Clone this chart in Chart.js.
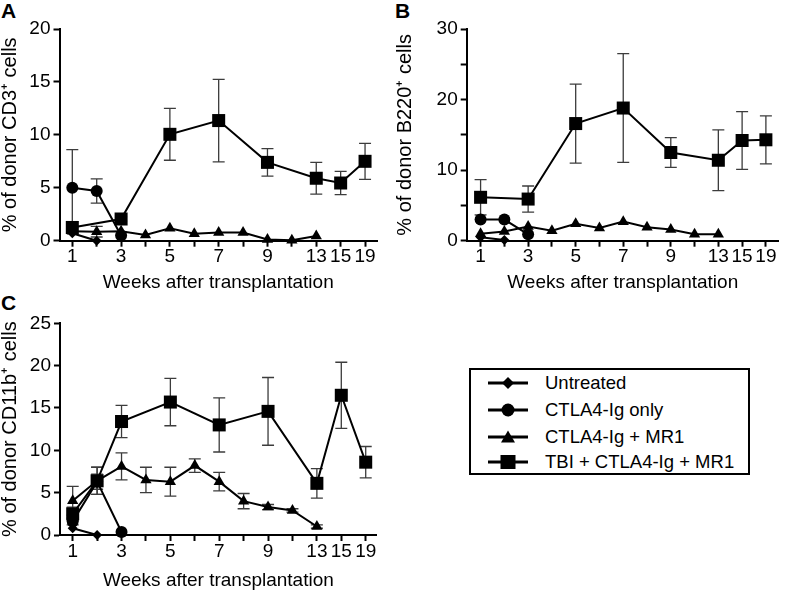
<!DOCTYPE html>
<html>
<head>
<meta charset="utf-8">
<script src="https://cdn.jsdelivr.net/npm/chart.js@4.4.1/dist/chart.umd.min.js"></script>
<style>
  html, body { margin: 0; padding: 0; background: #fff; }
  #wrap { position: relative; width: 788px; height: 592px; overflow: hidden; font-family: 'Liberation Sans', Arial, sans-serif; color: #000; }
  .panel { position: absolute; }
  .tag { position: absolute; font-weight: bold; font-size: 21px; line-height: 21px; }
  #legend { position: absolute; left: 469px; top: 368px; width: 281px; height: 107px; border: 2px solid #000; box-sizing: border-box; }
  .row { position: absolute; left: 17px; height: 26px; display: flex; align-items: center; font-size: 18.5px; white-space: nowrap; }
  .row svg { margin-right: 17px; }
</style>
</head>
<body>
<div id="wrap">
  <div class="tag" style="left:1px;top:0px">A</div>
  <div class="tag" style="left:395px;top:0px">B</div>
  <div class="tag" style="left:1px;top:292px">C</div>
  <div class="panel" style="left:0;top:0;width:392px;height:296px"><canvas id="chartA"></canvas></div>
  <div class="panel" style="left:395px;top:0;width:393px;height:296px"><canvas id="chartB"></canvas></div>
  <div class="panel" style="left:0;top:292px;width:392px;height:300px"><canvas id="chartC"></canvas></div>
  <div id="legend"></div>
</div>
<script>
// sumbu x: minggu (jarak antar kategori sama)
const weekLabels = ['1', '2', '3', '4', '5', '6', '7', '8', '9', '10', '13', '15', '19'];
const shownWeeks = ['1', '3', '5', '7', '9', '13', '15', '19'];
const seriesNames = ['Untreated', 'CTLA4-Ig only', 'CTLA4-Ig + MR1', 'TBI + CTLA4-Ig + MR1'];

// minggu pengambilan sampel tiap kelompok
const untreatedWeeks = ['1', '2'];
const ctlaWeeks = ['1', '2', '3'];
const mr1Weeks = ['1', '2', '3', '4', '5', '6', '7', '8', '9', '10', '13'];
const tbiWeeks = ['1', '3', '5', '7', '9', '13', '15', '19'];
const tbiWeeksC = ['1', '2', '3', '5', '7', '9', '13', '15', '19'];

// A: % donor CD3+
const cd3Untreated = [0.7, 0.0];
const cd3Ctla = [5.0, 4.7, 0.5];
const cd3CtlaErr = [3.6, 1.15, 0];
const cd3Mr1 = [0.9, 0.85, 0.9, 0.55, 1.17, 0.65, 0.78, 0.78, 0.12, 0.05, 0.45];
const cd3Mr1Err = [0, 0.5, 0, 0, 0, 0, 0, 0, 0, 0, 0];
const cd3Tbi = [1.25, 2.05, 10.05, 11.35, 7.4, 5.9, 5.45, 7.5];
const cd3TbiErr = [0.55, 0.2, 2.45, 3.9, 1.3, 1.5, 1.1, 1.7];

// B: % donor B220+
const b220Untreated = [0.5, 0.1];
const b220Ctla = [3.0, 3.0, 0.9];
const b220CtlaErr = [0, 0, 0];
const b220Mr1 = [1.0, 1.3, 2.0, 1.4, 2.4, 1.8, 2.7, 1.9, 1.6, 0.9, 0.9];
const b220Mr1Err = [0, 0, 0, 0, 0, 0, 0, 0, 0, 0, 0];
const b220Tbi = [6.15, 5.9, 16.6, 18.8, 12.5, 11.4, 14.2, 14.3];
const b220TbiErr = [2.5, 1.85, 5.6, 7.7, 2.1, 4.3, 4.1, 3.4];

// C: % donor CD11b+
const cd11bUntreated = [0.8, 0.0];
const cd11bCtla = [1.6, 6.3, 0.35];
const cd11bCtlaErr = [0.4, 0.9, 0];
const cd11bMr1 = [4.05, 6.4, 8.1, 6.5, 6.3, 8.2, 6.3, 4.0, 3.3, 2.9, 1.0];
const cd11bMr1Err = [1.7, 1.6, 1.6, 1.5, 1.7, 0.8, 1.1, 0.9, 0.3, 0.2, 0.2];
const cd11bTbi = [2.5, 6.4, 13.4, 15.7, 13.0, 14.6, 6.1, 16.5, 8.6];
const cd11bTbiErr = [0.8, 1.6, 1.9, 2.8, 3.2, 4.0, 1.75, 3.9, 1.85];

Chart.defaults.font.family = "'Liberation Sans', Arial, sans-serif";
Chart.defaults.color = '#000';

// plugin kecil untuk error bar (SEM)
const errorBars = {
  id: 'errorBars',
  beforeDatasetsDraw(chart) {
    const { ctx, scales: { x, y } } = chart;
    ctx.save();
    ctx.strokeStyle = '#3c3c3c';
    ctx.lineWidth = 1.3;
    chart.data.datasets.forEach(d => {
      if (!d.err) return;
      d.data.forEach((p, i) => {
        const e = d.err[i];
        if (!e) return;
        const px = x.getPixelForValue(p.x);
        const top = y.getPixelForValue(p.y + e);
        const bot = y.getPixelForValue(Math.max(0, p.y - e));
        ctx.beginPath();
        ctx.moveTo(px, top); ctx.lineTo(px, bot);
        ctx.moveTo(px - 6, top); ctx.lineTo(px + 6, top);
        ctx.moveTo(px - 6, bot); ctx.lineTo(px + 6, bot);
        ctx.stroke();
      });
    });
    ctx.restore();
  }
};

function toPoints(weeks, vals) {
  return weeks.map((w, i) => ({ x: weekLabels.indexOf(w), y: vals[i] }));
}

function makeSet(weeks, vals, err, style, radius) {
  return {
    data: toPoints(weeks, vals),
    err: err,
    borderColor: '#000',
    borderWidth: 2,
    pointStyle: style,
    pointRadius: radius,
    pointHoverRadius: radius,
    pointBackgroundColor: '#000',
    pointBorderColor: '#000',
    pointBorderWidth: 0,
    tension: 0,
    clip: false
  };
}

function makePanel(id, datasets, cfg) {
  const tickFont = { size: 19, lineHeight: 1 };
  return new Chart(document.getElementById(id), {
    type: 'line',
    data: { datasets: datasets },
    plugins: [errorBars],
    options: {
      responsive: true,
      maintainAspectRatio: false,
      animation: false,
      events: [],
      layout: { padding: { top: cfg.padTop, right: cfg.padRight, left: 0, bottom: 0 } },
      plugins: { legend: { display: false }, tooltip: { enabled: false } },
      scales: {
        x: {
          type: 'linear',
          min: cfg.xMin,
          max: cfg.xMax,
          afterBuildTicks: s => { s.ticks = weekLabels.map((w, i) => ({ value: i })); },
          afterFit: s => { s.height = cfg.xAxisH; },
          ticks: {
            autoSkip: false, maxRotation: 0, font: tickFont, color: '#000', padding: 1,
            callback: v => shownWeeks.includes(weekLabels[v]) ? weekLabels[v] : ''
          },
          grid: { drawOnChartArea: false, drawTicks: true, tickLength: 6, tickWidth: 2, tickColor: '#000' },
          border: { display: true, color: '#000', width: 2 },
          title: {
            display: true, text: 'Weeks after transplantation', color: '#000',
            font: { size: 19, lineHeight: 1.2 }, padding: { top: 0, bottom: cfg.titlePad }
          }
        },
        y: {
          min: 0,
          max: cfg.yMax,
          afterBuildTicks: s => {
            const t = [];
            for (let v = 0; v <= cfg.yMax; v += cfg.yStep) t.push({ value: v });
            s.ticks = t;
          },
          afterFit: s => { s.width = cfg.yAxisW; },
          ticks: {
            font: tickFont, color: '#000', padding: 3,
            callback: v => (v % cfg.yLabelEvery === 0 ? String(v) : '')
          },
          grid: { drawOnChartArea: false, drawTicks: true, tickLength: 6, tickWidth: 2, tickColor: '#000' },
          border: { display: true, color: '#000', width: 2 },
          title: {
            display: true, text: cfg.yTitle, color: '#000',
            font: { size: 20, lineHeight: 1.05 }, padding: 0
          }
        }
      }
    }
  });
}

makePanel('chartA', [
  makeSet(untreatedWeeks, cd3Untreated, null, 'rectRot', 5),
  makeSet(ctlaWeeks, cd3Ctla, cd3CtlaErr, 'circle', 6),
  makeSet(mr1Weeks, cd3Mr1, cd3Mr1Err, 'triangle', 6.5),
  makeSet(tbiWeeks, cd3Tbi, cd3TbiErr, 'rect', 9.2)
], { padTop: 29, padRight: 15, xMin: -0.525, xMax: 12.49, xAxisH: 55.3, yAxisW: 59.5,
     titlePad: 2, yMax: 20, yStep: 5, yLabelEvery: 5, yTitle: '% of donor CD3\u207A cells' });

makePanel('chartB', [
  makeSet(untreatedWeeks, b220Untreated, null, 'rectRot', 5),
  makeSet(ctlaWeeks, b220Ctla, b220CtlaErr, 'circle', 6),
  makeSet(mr1Weeks, b220Mr1, b220Mr1Err, 'triangle', 6.5),
  makeSet(tbiWeeks, b220Tbi, b220TbiErr, 'rect', 9.2)
], { padTop: 29, padRight: 0, xMin: -0.584, xMax: 12.543, xAxisH: 55.3, yAxisW: 71.7,
     titlePad: 2, yMax: 30, yStep: 5, yLabelEvery: 10, yTitle: '% of donor B220\u207A cells' });

makePanel('chartC', [
  makeSet(untreatedWeeks, cd11bUntreated, null, 'rectRot', 5),
  makeSet(ctlaWeeks, cd11bCtla, cd11bCtlaErr, 'circle', 6),
  makeSet(mr1Weeks, cd11bMr1, cd11bMr1Err, 'triangle', 6.5),
  makeSet(tbiWeeksC, cd11bTbi, cd11bTbiErr, 'rect', 9.2)
], { padTop: 31.3, padRight: 15.3, xMin: -0.52, xMax: 12.45, xAxisH: 57, yAxisW: 60,
     titlePad: 0, yMax: 25, yStep: 5, yLabelEvery: 5, yTitle: '% of donor CD11b\u207A cells' });

// legenda manual (kotak bergaris)
const legendIcons = [
  '<polygon points="20,4 26,10 20,16 14,10" fill="#000"/>',
  '<circle cx="20" cy="10" r="6.5" fill="#000"/>',
  '<polygon points="20,3.5 27,15.5 13,15.5" fill="#000"/>',
  '<rect x="12.5" y="3" width="15" height="14" fill="#000"/>'
];
const legendCenters = [12.7, 40, 66.7, 91.7];
const legendEl = document.getElementById('legend');
seriesNames.forEach((name, i) => {
  legendEl.innerHTML += `
    <div class="row" style="top:${legendCenters[i] - 13}px">
      <svg width="40" height="20"><line x1="0" y1="10" x2="40" y2="10" stroke="#000" stroke-width="3"/>${legendIcons[i]}</svg>
      <span>${name}</span>
    </div>`;
});
</script>
</body>
</html>
